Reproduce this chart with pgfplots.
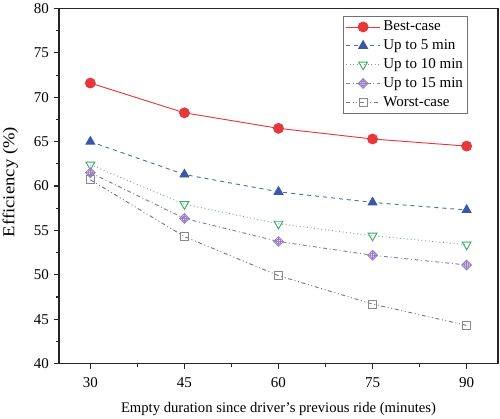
\documentclass[border=0pt]{standalone}
\usepackage{fontspec}
\setmainfont{Liberation Serif}
\usepackage{pgfplots}
\pgfplotsset{compat=1.18}
\definecolor{cred}{HTML}{E8373B}
\definecolor{cblueM}{HTML}{3A58A8}
\definecolor{cblueL}{HTML}{51709E}
\definecolor{cgreenM}{HTML}{3DAA6A}
\definecolor{cgreenL}{HTML}{7FA690}
\definecolor{cpurM}{HTML}{9A7CC4}
\definecolor{cpurL}{HTML}{8A7F96}
\definecolor{cgrayM}{HTML}{8A8A8A}
\definecolor{cgrayL}{HTML}{7A7A80}
\pgfdeclareplotmark{diamondplus}{%
  \pgfpathmoveto{\pgfqpoint{0pt}{\pgfplotmarksize}}%
  \pgfpathlineto{\pgfqpoint{\pgfplotmarksize}{0pt}}%
  \pgfpathlineto{\pgfqpoint{0pt}{-\pgfplotmarksize}}%
  \pgfpathlineto{\pgfqpoint{-\pgfplotmarksize}{0pt}}%
  \pgfpathclose
  \pgfpathmoveto{\pgfqpoint{0pt}{\pgfplotmarksize}}%
  \pgfpathlineto{\pgfqpoint{0pt}{-\pgfplotmarksize}}%
  \pgfpathmoveto{\pgfqpoint{\pgfplotmarksize}{0pt}}%
  \pgfpathlineto{\pgfqpoint{-\pgfplotmarksize}{0pt}}%
  \pgfusepathqstroke
  \pgfpathcircle{\pgfpointorigin}{0.5\pgfplotmarksize}%
  \pgfusepathqstroke
}
\begin{document}
\begin{tikzpicture}
\useasboundingbox (-44.25pt,-40.9pt) rectangle (330.75pt,272.65pt);
\begin{axis}[
  at={(0,0)}, anchor=south west,
  scale only axis,
  width=329.25pt, height=266.25pt,
  xmin=25, xmax=95, ymin=40, ymax=80,
  xtick={30,45,60,75,90},
  ytick={40,45,...,80},
  minor x tick num=1, minor y tick num=1,
  tick pos=left, tick align=outside,
  major tick length=4pt, minor tick length=2.5pt,
  axis line style={line width=1pt, black!85},
  every tick/.style={black!85, line width=0.8pt},
  /pgf/number format/assume math mode=true,
  tick label style={font=\fontsize{11.25}{13}\selectfont},
  xticklabel style={yshift=-3pt},
  xlabel={Empty duration since driver's previous ride (minutes)},
  ylabel={Efficiency (\%)},
  xlabel style={font=\fontsize{11}{13}\selectfont, at={([yshift=-37pt]axis description cs:0.5,0)}, anchor=base, inner sep=0pt},
  ylabel style={font=\fontsize{12.5}{15}\selectfont, at={([xshift=-42.5pt,yshift=3pt]axis description cs:0,0.5)}, anchor=north, xscale=1.12, inner sep=0pt},
  legend style={at={(1,1)}, anchor=north east, xshift=-22.5pt, yshift=-5.6pt,
    draw=black!55, line width=0.6pt, font=\fontsize{11.25}{13}\selectfont,
    inner sep=1.5pt, row sep=1.2pt, cells={anchor=west}},
  legend image code/.code={%
    \draw[mark repeat=2,mark phase=2] plot coordinates {(0cm,0cm) (0.45cm,0cm) (0.9cm,0cm)};},
  legend cell align=left,
]
\addplot[color=cred, line width=0.7pt, mark=*, mark size=3.7pt,
  mark options={solid, fill=cred, draw=cred}]
  coordinates {(30,71.6) (45,68.25) (60,66.5) (75,65.3) (90,64.5)};
\addlegendentry{Best-case}
\addplot[color=cblueL, line width=0.7pt, dashed, mark=triangle*, mark size=3.8pt,
  mark options={solid, fill=cblueM, draw=cblueM}]
  coordinates {(30,65.0) (45,61.3) (60,59.35) (75,58.15) (90,57.3)};
\addlegendentry{Up to 5 min}
\addplot[color=cgreenL, line width=0.7pt, dotted, mark=triangle, mark size=3.8pt,
  mark options={solid, rotate=180, draw=cgreenM, line width=0.7pt}]
  coordinates {(30,62.4) (45,57.95) (60,55.75) (75,54.4) (90,53.4)};
\addlegendentry{Up to 10 min}
\addplot[color=cpurL, line width=0.7pt, dash dot, mark=diamondplus, mark size=3.6pt,
  mark options={solid, draw=cpurM, line width=0.7pt}]
  coordinates {(30,61.5) (45,56.35) (60,53.75) (75,52.2) (90,51.1)};
\addlegendentry{Up to 15 min}
\addplot[color=cgrayL, line width=0.7pt, dash dot dot, mark=square, mark size=3pt,
  mark options={solid, draw=cgrayM, line width=0.7pt}]
  coordinates {(30,60.7) (45,54.3) (60,49.9) (75,46.7) (90,44.3)};
\addlegendentry{Worst-case}
\end{axis}
\end{tikzpicture}
\end{document}
